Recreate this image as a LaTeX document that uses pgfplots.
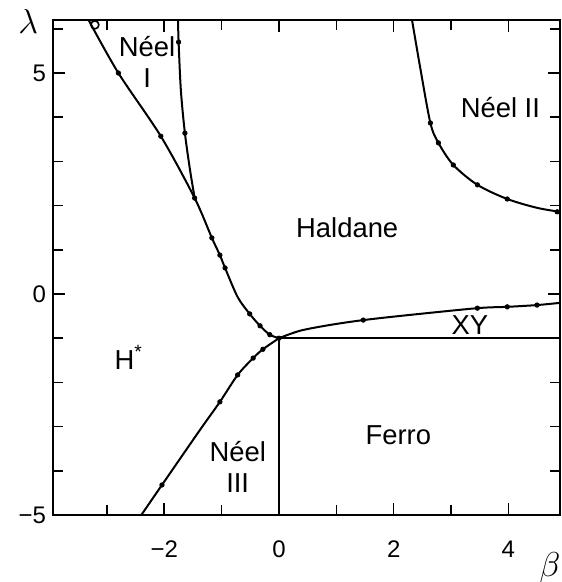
\documentclass[border=0pt]{standalone}
\usepackage{fontspec}
\setmainfont{Liberation Sans}
\usepackage{pgfplots}
\pgfplotsset{compat=1.18}
\newcommand{\lab}{\fontsize{13.7}{15.5}\selectfont}
\begin{document}
\begin{tikzpicture}
\begin{axis}[
  scale only axis, width=253.5pt, height=247.5pt,
  xmin=-3.94, xmax=4.9, ymin=-5, ymax=6.2,
  clip mode=individual,
  axis line style={line width=1pt},
  xtick={-2,0,2,4}, xticklabels={−2,0,2,4},
  minor xtick={-3,-1,1,3},
  ytick={-5,0,5}, yticklabels={−5,0,5},
  minor ytick={-4,-3,-2,-1,1,2,3,4,6},
  tick align=inside, major tick length=6pt, minor tick length=5pt,
  tick style={black, line width=0.8pt},
  xticklabel style={font=\fontsize{12}{14}\selectfont, yshift=-9.5pt},
  yticklabel style={font=\fontsize{12}{14}\selectfont},
  /pgf/number format/assume math mode=true,
]
% main NW-SE boundary
\addplot[black, line width=1pt, smooth, tension=0.5] coordinates {
  (-3.32,6.2) (-2.80,5.0) (-2.06,3.57) (-1.47,2.17) (-1.17,1.27) (-1.03,0.88)
  (-0.94,0.59) (-0.72,-0.07) (-0.51,-0.45) (-0.33,-0.72) (-0.16,-0.92) (0,-1)};
% Neel I right boundary
\addplot[black, line width=1pt, smooth, tension=0.5] coordinates {
  (-1.76,6.2) (-1.75,5.7) (-1.71,4.6) (-1.64,3.64) (-1.55,2.8) (-1.47,2.17)};
% Neel II boundary
\addplot[black, line width=1pt, smooth, tension=0.5] coordinates {
  (2.32,6.2) (2.46,5.14) (2.64,3.87) (2.78,3.42) (3.04,2.92) (3.46,2.47)
  (3.98,2.15) (4.5,1.95) (4.9,1.86)};
% XY upper boundary
\addplot[black, line width=1pt, smooth, tension=0.5] coordinates {
  (0,-1) (0.37,-0.83) (0.89,-0.7) (1.47,-0.59) (2.23,-0.48) (3.46,-0.32)
  (3.98,-0.29) (4.5,-0.25) (4.9,-0.2)};
% XY lower boundary
\addplot[black, line width=1pt] coordinates {(0,-1) (4.9,-1)};
% vertical boundary
\addplot[black, line width=1pt] coordinates {(0,-1) (0,-5)};
% Neel III boundary
\addplot[black, line width=1pt, smooth, tension=0.5] coordinates {
  (0,-1) (-0.28,-1.25) (-0.45,-1.45) (-0.72,-1.83) (-1.03,-2.44)
  (-1.38,-3.08) (-2.04,-4.32) (-2.4,-5)};
% data points
\addplot[only marks, mark=*, mark size=1.1pt, black] coordinates {
  (-2.80,5.0) (-2.06,3.57) (-1.47,2.17) (-1.17,1.27) (-1.03,0.88) (-0.94,0.59)
  (-0.51,-0.45) (-0.33,-0.72) (-0.16,-0.92) (0,-1)
  (-1.75,5.7) (-1.64,3.64)
  (2.64,3.87) (2.78,3.42) (3.04,2.92) (3.46,2.47) (3.98,2.15) (4.85,1.86)
  (1.47,-0.59) (3.46,-0.32) (3.98,-0.29) (4.5,-0.25)
  (-0.28,-1.25) (-0.45,-1.45) (-0.72,-1.83) (-1.03,-2.44) (-2.04,-4.32)};
\addplot[only marks, mark=o, mark size=2pt, black, line width=0.8pt, fill=white] coordinates {(-3.21,6.09)};
% region labels
\node[font=\lab, align=center] at (axis cs:-2.3,5.25) {Néel\\I};
\node[font=\lab] at (axis cs:3.86,4.21) {Néel II};
\node[font=\lab] at (axis cs:1.19,1.49) {Haldane};
\node[font=\lab, inner sep=0pt] at (axis cs:3.33,-0.7) {XY};
\node[font=\lab] at (axis cs:-2.62,-1.43) {H\textsuperscript{*}};
\node[font=\lab, align=center] at (axis cs:-0.72,-3.91) {Néel\\III};
\node[font=\lab] at (axis cs:2.08,-3.19) {Ferro};
% axis labels
\node[font=\fontsize{17}{17}\selectfont] at (axis description cs:-0.049,0.996) {$\lambda$};
\node[font=\fontsize{16}{16}\selectfont] at (axis description cs:0.98,-0.107) {$\beta$};
\end{axis}
\pgfresetboundingbox
\path ([xshift=-26.5pt,yshift=-33.5pt]current axis.south west) rectangle ([xshift=0.5pt,yshift=10pt]current axis.north east);
\end{tikzpicture}
\end{document}
